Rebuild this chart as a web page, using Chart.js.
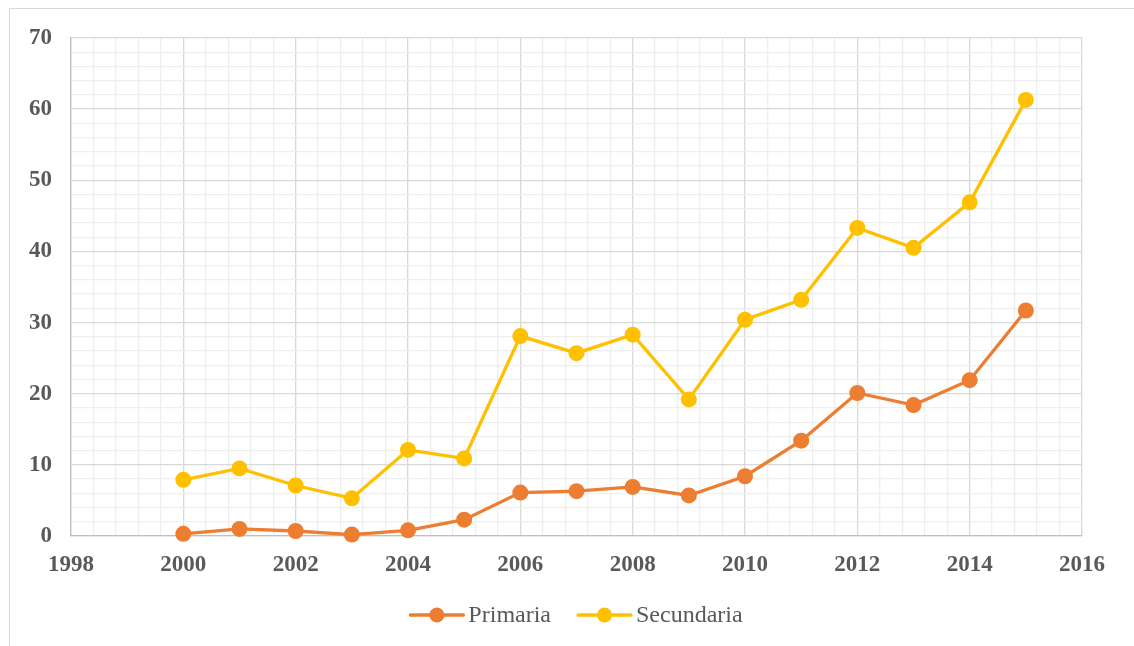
<!DOCTYPE html>
<html lang="es">
<head>
    <meta charset="UTF-8">
    <title>Primaria y Secundaria 2000-2015</title>
    <script src="https://cdn.jsdelivr.net/npm/chart.js"></script>
    <style>
        html, body {
            margin: 0;
            padding: 0;
            background: #fff;
            overflow: hidden;
        }
        .frame {
            position: absolute;
            left: 9px;
            top: 8px;
            width: 1140px;
            height: 660px;
            border: 1px solid #d9d9d9;
        }
        .chart-box {
            position: absolute;
            left: 0;
            top: 0;
            width: 1134px;
            height: 646px;
        }
    </style>
</head>
<body>
    <div class="frame"></div>
    <div class="chart-box">
        <canvas id="chart"></canvas>
    </div>

    <script>
        // Años y series
        const years = [2000, 2001, 2002, 2003, 2004, 2005, 2006, 2007,
                       2008, 2009, 2010, 2011, 2012, 2013, 2014, 2015];
        const primaria = [0.3, 1.0, 0.7, 0.2, 0.8, 2.3, 6.1, 6.3,
                          6.9, 5.7, 8.4, 13.4, 20.1, 18.4, 21.9, 31.7];
        const secundaria = [7.9, 9.5, 7.1, 5.3, 12.1, 10.9, 28.1, 25.7,
                            28.3, 19.2, 30.4, 33.2, 43.3, 40.5, 46.9, 61.3];

        const textColor = '#595959';
        const majorGrid = '#d9d9d9';
        const minorGrid = '#efefef';

        const isMultiple = (v, step) => Math.abs(v - Math.round(v / step) * step) < 1e-6;

        // Leyenda dibujada a mano: línea con punto en medio
        const lineLegend = {
            id: 'lineLegend',
            afterDraw(chart) {
                const ctx = chart.ctx;
                const area = chart.chartArea;
                const sets = chart.data.datasets;
                const lineLen = 53, gap = 5, itemGap = 27;
                ctx.save();
                ctx.font = '24px "Liberation Serif", "Times New Roman", serif';
                const widths = sets.map(ds => lineLen + gap + ctx.measureText(ds.label).width);
                const total = widths.reduce((a, b) => a + b, 0) + itemGap * (sets.length - 1);
                let x = (area.left + area.right) / 2 - total / 2;
                const y = area.bottom + 79;
                sets.forEach((ds, i) => {
                    ctx.strokeStyle = ds.borderColor;
                    ctx.lineWidth = 3.3;
                    ctx.lineCap = 'round';
                    ctx.beginPath();
                    ctx.moveTo(x, y);
                    ctx.lineTo(x + lineLen, y);
                    ctx.stroke();
                    ctx.fillStyle = ds.pointBackgroundColor;
                    ctx.beginPath();
                    ctx.arc(x + lineLen / 2, y, 7.5, 0, Math.PI * 2);
                    ctx.fill();
                    ctx.fillStyle = textColor;
                    ctx.textBaseline = 'middle';
                    ctx.textAlign = 'left';
                    ctx.fillText(ds.label, x + lineLen + gap, y + 1);
                    x += widths[i] + itemGap;
                });
                ctx.restore();
            }
        };

        function makeSeries(label, values, color) {
            return {
                label: label,
                data: years.map((yr, i) => ({ x: yr, y: values[i] })),
                borderColor: color,
                backgroundColor: color,
                pointBackgroundColor: color,
                pointBorderColor: color,
                borderWidth: 3.3,
                pointRadius: 8,
                pointBorderWidth: 0,
                pointHoverRadius: 8,
                tension: 0,
                clip: false
            };
        }

        new Chart(document.getElementById('chart'), {
            type: 'line',
            data: {
                datasets: [
                    makeSeries('Primaria', primaria, '#ed7d31'),
                    makeSeries('Secundaria', secundaria, '#ffc000')
                ]
            },
            options: {
                responsive: true,
                maintainAspectRatio: false,
                animation: false,
                layout: { padding: { top: 38, right: 52, left: 0, bottom: 0 } },
                plugins: {
                    legend: { display: false },
                    tooltip: { enabled: false }
                },
                scales: {
                    x: {
                        type: 'linear',
                        min: 1998,
                        max: 2016,
                        afterFit(scale) { scale.height = 110; },
                        border: { color: '#bfbfbf', width: 1.3 },
                        grid: {
                            drawTicks: false,
                            lineWidth: 1.3,
                            color: c => isMultiple(c.tick.value, 2) ? majorGrid : minorGrid
                        },
                        ticks: {
                            stepSize: 0.4,
                            autoSkip: false,
                            maxRotation: 0,
                            padding: 15,
                            color: textColor,
                            font: { family: '"Liberation Serif", "Times New Roman", serif', size: 23, weight: 'bold' },
                            callback: v => isMultiple(v, 2) ? String(Math.round(v)) : ''
                        }
                    },
                    y: {
                        min: 0,
                        max: 70,
                        afterFit(scale) { scale.width = 71; },
                        border: { color: '#bfbfbf', width: 1.3 },
                        grid: {
                            drawTicks: false,
                            lineWidth: 1.3,
                            color: c => isMultiple(c.tick.value, 10) ? majorGrid : minorGrid
                        },
                        ticks: {
                            stepSize: 2,
                            autoSkip: false,
                            padding: 19,
                            color: textColor,
                            font: { family: '"Liberation Serif", "Times New Roman", serif', size: 23, weight: 'bold' },
                            callback: v => isMultiple(v, 10) ? String(Math.round(v)) : ''
                        }
                    }
                }
            },
            plugins: [lineLegend]
        });
    </script>
</body>
</html>
